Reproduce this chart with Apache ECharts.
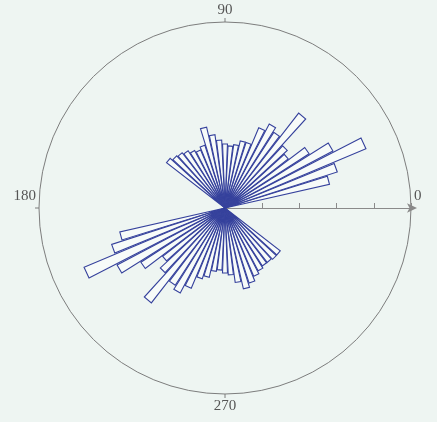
<!DOCTYPE html>
<html>
<head>
<meta charset="utf-8">
<title>rose</title>
<script src="https://cdn.jsdelivr.net/npm/echarts@6/dist/echarts.min.js"></script>
<style>
  html, body { margin: 0; padding: 0; background: #eef5f2; }
  #main { width: 437px; height: 422px; }
</style>
</head>
<body>
<div id="main"></div>
<script>
// bin centres (deg) and bar lengths, upper fan and lower fan
var upperAngles = [15, 20, 25, 30, 35, 40, 45, 50, 55, 60, 65, 70, 75, 80, 85, 90, 95, 100, 105, 110, 115, 120, 125, 130, 135, 140];
var upperLen = [2.88, 3.17, 4.11, 3.28, 2.69, 2.15, 2.28, 3.23, 2.42, 2.55, 2.34, 1.85, 1.85, 1.72, 1.67, 1.72, 1.83, 1.99, 2.23, 1.77, 1.69, 1.75, 1.83, 1.88, 1.91, 1.99];
var lowerAngles = [195, 200, 205, 210, 215, 220, 225, 230, 235, 240, 245, 250, 255, 260, 265, 270, 275, 280, 285, 290, 295, 300, 305, 310, 315, 320];
var lowerLen = [2.90, 3.20, 4.11, 3.28, 2.69, 2.12, 2.37, 3.23, 2.47, 2.58, 2.34, 2.00, 1.91, 1.72, 1.67, 1.75, 1.80, 2.02, 2.23, 2.12, 1.99, 1.91, 1.85, 1.85, 1.88, 1.88];
var angleLabels = [0, 90, 180, 270];

var halfBin = 2.2; // half angular width of a wedge

var chart = echarts.init(document.getElementById('main'));

var data = [];
upperAngles.forEach(function (a, i) { data.push([upperLen[i], a]); });
lowerAngles.forEach(function (a, i) { data.push([lowerLen[i], a]); });

function renderWedge(params, api) {
    var r = api.value(0), a = api.value(1);
    var o = api.coord([0, a]);
    var p1 = api.coord([r, a - halfBin]);
    var p2 = api.coord([r, a + halfBin]);
    return {
        type: 'polygon',
        shape: { points: [[o[0], o[1]], [p1[0], p1[1]], [p2[0], p2[1]]] },
        style: { fill: 'rgba(255,255,255,0.55)', stroke: '#35419c', lineWidth: 1.1 }
    };
}

var option = {
    backgroundColor: '#eef5f2',
    animation: false,
    polar: { center: [225, 208], radius: 186 },
    angleAxis: {
        type: 'value', min: 0, max: 360, interval: 90,
        startAngle: 0, clockwise: false,
        axisLine: { lineStyle: { color: '#7d7d7d', width: 1 } },
        axisTick: { show: true, length: 4, lineStyle: { color: '#7d7d7d' } },
        splitLine: { show: false },
        axisLabel: {
            margin: 3, color: '#555', fontFamily: 'Liberation Serif', fontSize: 15, lineHeight: 18,
            formatter: function (v) {
                if (angleLabels.indexOf(v) < 0) return '';
                if (v === 0 || v === 180) return '{a|' + v + '}\n{b| }';
                return '' + v;
            },
            rich: {
                a: { fontFamily: 'Liberation Serif', fontSize: 15, lineHeight: 18, color: '#555' },
                b: { fontSize: 10, lineHeight: 24 }
            }
        }
    },
    radiusAxis: {
        type: 'value', min: 0, max: 5, interval: 1,
        axisLine: { show: true, symbol: ['none', 'arrow'], symbolSize: [7, 10], symbolOffset: [0, 6], lineStyle: { color: '#8a8a8a', width: 1.2 } },
        axisTick: { show: true, length: 5, lineStyle: { color: '#8a8a8a' } },
        axisLabel: { show: false },
        splitLine: { show: false }
    },
    series: [{
        type: 'custom',
        coordinateSystem: 'polar',
        renderItem: renderWedge,
        encode: { radius: 0, angle: 1 },
        data: data
    }]
};
chart.setOption(option);
</script>
</body>
</html>
